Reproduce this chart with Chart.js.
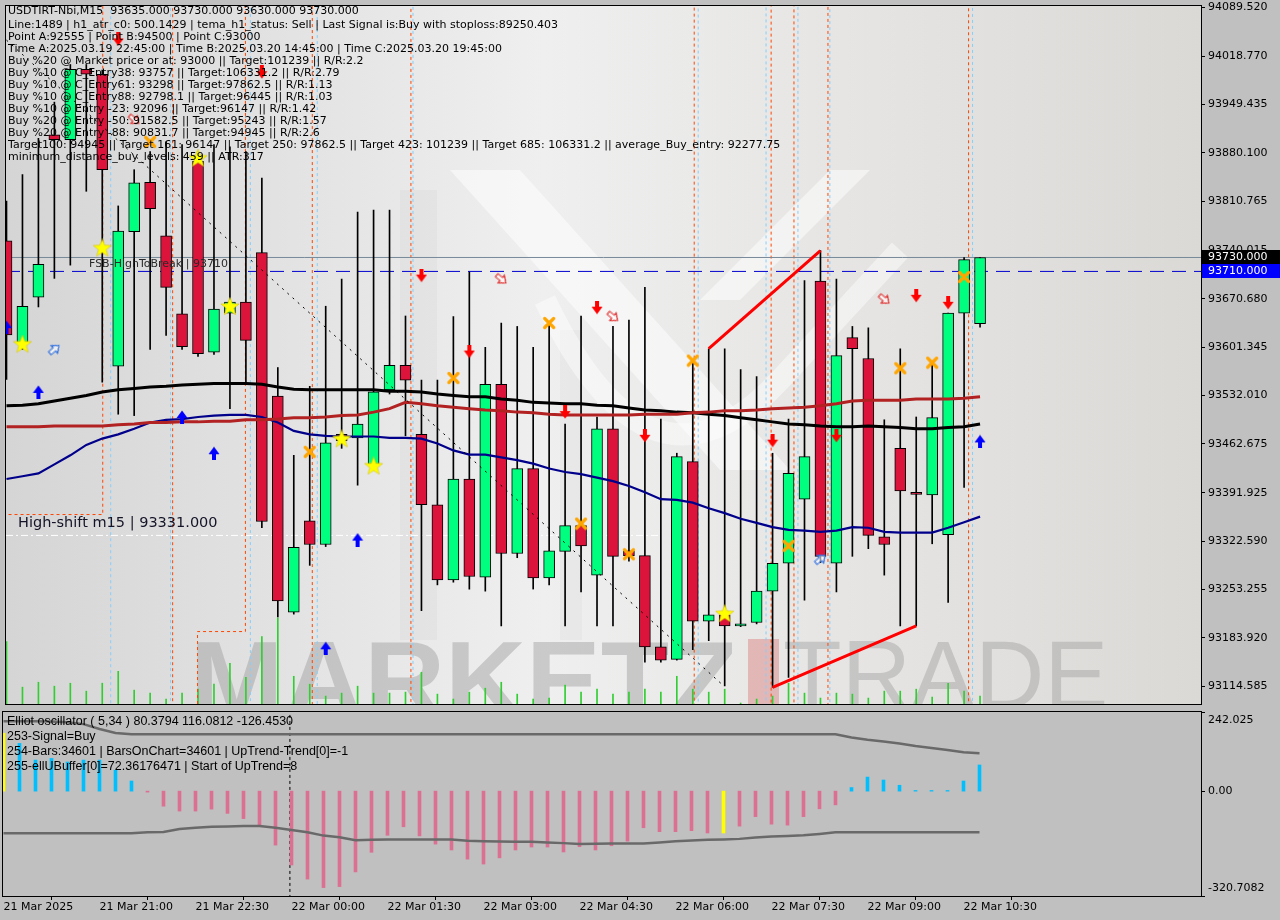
<!DOCTYPE html>
<html>
<head>
<meta charset="utf-8">
<title>USDTIRT-Nbi,M15</title>
<script src="https://cdn.jsdelivr.net/npm/chart.js@4.4.1/dist/chart.umd.min.js"></script>
<style>
  html, body { margin: 0; padding: 0; background: #c0c0c0; }
  #wrap { position: relative; width: 1280px; height: 920px; overflow: hidden; }
  canvas { position: absolute; left: 0; }
  #mainChart { top: 0; }
  #oscChart { top: 710px; }
</style>
</head>
<body>
<div id="wrap">
  <canvas id="mainChart" width="1280" height="710"></canvas>
  <canvas id="oscChart" width="1280" height="210"></canvas>
</div>
<script>
// M15 candles, 21 Mar 19:30 .. 22 Mar 10:45
const opens  = [93754,93608,93673,93906,93899,94000,93993,93574,93767,93838, 93761,93649,93868,93594,93650,93666,93737,93531,93221,93352, 93318,93476,93471,93433,93540,93575,93476,93375,93267,93412, 93271,93548,93305,93427,93270,93308,93345,93274,93484,93309, 93302,93171,93153,93437,93208,93217,93201,93206,93251,93291, 93383,93696,93291,93615,93585,93329,93456,93393,93389,93332, 93650,93635];
const highs  = [93811,93849,93901,93953,94007,94007,93999,93804,93856,93882, 93896,93892,93882,93892,93889,93882,93844,93572,93446,93545, 93660,93699,93795,93798,93798,93646,93554,93554,93645,93709, 93601,93636,93631,93601,93636,93491,93646,93501,93631,93640, 93687,93498,93449,93579,93599,93599,93569,93559,93449,93498, 93697,93740,93699,93631,93629,93497,93599,93501,93579,93650, 93730,93730];
const lows   = [93555,93598,93659,93700,93719,93825,93551,93505,93503,93598, 93618,93598,93588,93591,93513,93551,93342,93214,93218,93288, 93315,93456,93403,93427,93534,93474,93223,93260,93264,93254, 93251,93201,93299,93254,93260,93201,93250,93201,93201,93294, 93149,93149,93152,93167,93180,93115,93200,93204,93113,93127, 93238,93292,93250,93301,93312,93274,93201,93201,93319,93235, 93400,93630];
const closes = [93619,93660,93720,93899,94000,93993,93856,93768,93837,93800, 93687,93602,93592,93656,93666,93611,93351,93237,93314,93318, 93464,93467,93491,93537,93575,93554,93375,93267,93412,93272, 93548,93305,93427,93270,93309,93345,93316,93484,93301,93302, 93171,93152,93444,93208,93217,93201,93204,93251,93291,93420, 93444,93301,93589,93599,93331,93318,93395,93390,93500,93650, 93727,93730];
const tickVolume = [63,17,22,18,21,13,21,33,14,11, 5,11,15,20,41,27,68,87,28,20, 8,11,18,11,11,12,32,10,5,12, 16,22,10,5,6,19,12,15,10,12, 15,12,28,15,12,15,1,5,8,21, 11,6,11,10,6,13,13,15,7,21, 13,8];

const maBlack = [93517,93518,93520,93524,93528,93532,93537,93540,93542,93544, 93545,93547,93548,93549,93549,93549,93548,93544,93541,93540, 93540,93540,93540,93540,93538,93538,93537,93534,93532,93530, 93530,93527,93525,93522,93521,93520,93520,93518,93517,93514, 93511,93510,93508,93507,93505,93503,93500,93497,93494,93491, 93490,93488,93487,93487,93488,93487,93486,93484,93484,93486, 93487,93491];
const maBrown = [93487,93487,93487,93488,93488,93488,93488,93490,93491,93493, 93493,93494,93494,93495,93495,93497,93497,93498,93500,93500, 93501,93503,93504,93508,93513,93522,93520,93517,93515,93513, 93511,93510,93508,93507,93505,93504,93504,93504,93504,93504, 93505,93505,93505,93507,93508,93510,93510,93511,93513,93514, 93515,93517,93520,93524,93525,93525,93525,93527,93527,93527, 93528,93530];
const maNavy = [93412,93416,93420,93433,93446,93461,93470,93476,93484,93493, 93497,93498,93501,93503,93504,93504,93501,93493,93481,93476, 93474,93473,93473,93473,93471,93471,93470,93463,93453,93447, 93447,93443,93439,93434,93427,93422,93419,93414,93409,93402, 93393,93383,93382,93378,93370,93363,93355,93349,93343,93339, 93338,93336,93338,93343,93342,93336,93335,93335,93335,93342, 93350,93358];

// Elliot oscillator panel
const oscValues = [177,146,95,100,89,95,95,64,31,-3, -46,-61,-61,-55,-68,-84,-107,-165,-226,-269, -295,-292,-247,-187,-135,-109,-137,-162,-180,-208, -223,-204,-180,-171,-171,-186,-170,-180,-167,-153, -112,-124,-124,-121,-128,-128,-107,-78,-101,-104, -78,-54,-42,11,43,34,18,2,2,2, 31,80];
const oscUpper = [214,214,214,213,211,205,190,178,174,174, 174,174,174,174,174,174,174,174,174,174, 174,174,174,174,174,174,174,174,174,174, 174,174,174,174,174,174,174,174,174,174, 174,174,174,174,174,174,174,174,174,174, 174,174,174,164,157,152,146,138,132,126, 119,116];
const oscLower = [-129,-129,-129,-129,-129,-129,-129,-129,-129,-126, -125,-116,-112,-109,-108,-107,-107,-112,-119,-126, -136,-141,-150,-149,-148,-148,-148,-148,-148,-152, -153,-154,-155,-155,-157,-159,-162,-161,-160,-160, -160,-157,-153,-151,-149,-148,-146,-142,-139,-137, -135,-131,-126,-126,-126,-126,-126,-126,-126,-126, -126,-126];
const oscYellowIdx = [0, 45];
const oscTicks = ['242.025', '0.00', '-320.7082'];
const daySeparatorIdx = 17.9;

const priceTicks = ['94089.520','94018.770','93949.435','93880.100','93810.765','93740.015','93670.680','93601.345','93532.010','93462.675','93391.925','93322.590','93253.255','93183.920','93114.585'];
const timeTickIdx = [0, 6, 12, 18, 24, 30, 36, 42, 48, 54, 60];
const timeLabels = ['21 Mar 2025','21 Mar 21:00','21 Mar 22:30','22 Mar 00:00','22 Mar 01:30','22 Mar 03:00','22 Mar 04:30','22 Mar 06:00','22 Mar 07:30','22 Mar 09:00','22 Mar 10:30'];

// signal markers
const starIdx = [1, 6, 12, 14, 21, 23, 45];
const starPrice = [93605, 93743, 93872, 93659, 93469, 93430, 93218];
const crossIdx = [9, 19, 28, 34, 36, 39, 43, 49, 56, 58, 60];
const crossPrice = [93896, 93451, 93557, 93636, 93348, 93304, 93582, 93316, 93571, 93579, 93702];
const downIdx = [7, 16, 26, 29, 35, 37, 40, 48, 52, 57, 59];
const downPrice = [94043, 93996, 93704, 93595, 93508, 93658, 93474, 93467, 93474, 93675, 93665];
const upIdx = [0, 2, 11, 13, 20, 22, 61];
const upPrice = [93630, 93537, 93501, 93449, 93169, 93325, 93466];
const hollowRedIdx = [8, 31, 38, 55];
const hollowRedPrice = [93928, 93699, 93645, 93670];
const hollowBlueIdx = [3, 51];
const hollowBluePrice = [93598, 93297];

// stepped channel lines (values outside the axis run off the chart)
const orangeStepX = [-1, 6.03, 10.41, 11.97, 14.97, 19.16, 25.34, 43.09, 47.91, 49.34, 51.47, 60.28, 62];
const orangeStepY = [93361, 94300, 92900, 93193, 94300, 92900, 94300, 92900, 94300, 92900, 94300, 92900, 92900];
const blueStepX = [-1, 6.53, 10.28, 15.28, 19.47, 25.47, 43.34, 47.59, 49.59, 51.59, 60.53, 62];
const blueStepY = [94300, 92900, 94300, 92900, 94300, 92900, 94300, 92900, 94300, 92900, 94300, 94300];

const bidPrice = 93730;
const fsbPrice = 93710;
const highShiftPrice = 93331;
const highShiftEndIdx = 41;
const dotLineX = [0, 44.94], dotLineY = [94042, 93115];
const redLine1X = [44, 51], redLine1Y = [93599, 93740];
const redLine2X = [48, 57], redLine2Y = [93113, 93201];

const headerLines = [
  'USDTIRT-Nbi,M15  93635.000 93730.000 93630.000 93730.000',
  'Line:1489 | h1_atr_c0: 500.1429 | tema_h1_status: Sell | Last Signal is:Buy with stoploss:89250.403',
  'Point A:92555 | Point B:94500 | Point C:93000',
  'Time A:2025.03.19 22:45:00 | Time B:2025.03.20 14:45:00 | Time C:2025.03.20 19:45:00',
  'Buy %20 @ Market price or at: 93000 || Target:101239 || R/R:2.2',
  'Buy %10 @ C_Entry38: 93757 || Target:106331.2 || R/R:2.79',
  'Buy %10 @ C_Entry61: 93298 || Target:97862.5 || R/R:1.13',
  'Buy %10 @ C_Entry88: 92798.1 || Target:96445 || R/R:1.03',
  'Buy %10 @ Entry -23: 92096 || Target:96147 || R/R:1.42',
  'Buy %20 @ Entry -50: 91582.5 || Target:95243 || R/R:1.57',
  'Buy %20 @ Entry -88: 90831.7 || Target:94945 || R/R:2.6',
  'Target100: 94945 || Target 161: 96147 || Target 250: 97862.5 || Target 423: 101239 || Target 685: 106331.2 || average_Buy_entry: 92277.75',
  'minimum_distance_buy_levels: 459 || ATR:317'
];
const oscText = [
  'Elliot oscillator ( 5,34 ) 80.3794 116.0812 -126.4530',
  '253-Signal=Buy',
  '254-Bars:34601 | BarsOnChart=34601 | UpTrend-Trend[0]=-1',
  '255-ellUBuffer[0]=72.36176471 | Start of UpTrend=8'
];

// ---------------------------------------------------------------
const X_MIN = -0.03125;
const X_MAX = X_MIN + 1198 / 16;
const pts = (xs, ys) => xs.map((x, i) => ({ x: x, y: ys[i] }));
const series = arr => arr.map((v, i) => ({ x: i, y: v }));

function makeArrow(color, up) {
  const c = document.createElement('canvas');
  c.width = 12; c.height = 14;
  const g = c.getContext('2d');
  if (up) { g.translate(0, 14); g.scale(1, -1); }
  g.fillStyle = color;
  g.beginPath();
  g.moveTo(4, 0); g.lineTo(8, 0); g.lineTo(8, 6); g.lineTo(11.5, 6);
  g.lineTo(6, 13.5); g.lineTo(0.5, 6); g.lineTo(4, 6);
  g.closePath(); g.fill();
  return c;
}
// outlined arrow pointing right; rotated by the dataset
function makeHollowArrow(color) {
  const c = document.createElement('canvas');
  c.width = 14; c.height = 12;
  const g = c.getContext('2d');
  g.strokeStyle = color; g.lineWidth = 1.2;
  g.fillStyle = 'rgba(255,255,255,0.6)';
  g.beginPath();
  g.moveTo(1, 4); g.lineTo(7, 4); g.lineTo(7, 1); g.lineTo(13, 6);
  g.lineTo(7, 11); g.lineTo(7, 8); g.lineTo(1, 8);
  g.closePath(); g.fill(); g.stroke();
  return c;
}
function makeStar() {
  const c = document.createElement('canvas');
  c.width = 20; c.height = 20;
  const g = c.getContext('2d');
  g.beginPath();
  for (let k = 0; k < 10; k++) {
    const r = k % 2 ? 4 : 9.5;
    const a = -Math.PI / 2 + k * Math.PI / 5;
    g.lineTo(10 + r * Math.cos(a), 10 + r * Math.sin(a));
  }
  g.closePath();
  g.fillStyle = '#FFFF00'; g.fill();
  g.strokeStyle = 'rgba(210,190,0,0.7)'; g.lineWidth = 0.8; g.stroke();
  return c;
}
function makeCross() {
  const c = document.createElement('canvas');
  c.width = 14; c.height = 14;
  const g = c.getContext('2d');
  g.strokeStyle = '#FFA500'; g.lineWidth = 3.2; g.lineCap = 'round';
  g.beginPath(); g.moveTo(2.5, 2.5); g.lineTo(11.5, 11.5); g.moveTo(11.5, 2.5); g.lineTo(2.5, 11.5); g.stroke();
  return c;
}

function poly(ctx, p) {
  ctx.beginPath();
  p.forEach((q, i) => i ? ctx.lineTo(q[0], q[1]) : ctx.moveTo(q[0], q[1]));
  ctx.closePath(); ctx.fill();
}

const mainDeco = {
  id: 'mainDeco',
  beforeDatasetsDraw(chart) {
    const { ctx, chartArea: a } = chart;
    ctx.save();
    const g = ctx.createLinearGradient(a.left, 0, a.right, 0);
    g.addColorStop(0, '#d5d5d5');
    g.addColorStop(0.45, '#efefef');
    g.addColorStop(1, '#dbd9d6');
    ctx.fillStyle = g;
    ctx.fillRect(a.left, a.top, a.right - a.left, a.bottom - a.top);
    ctx.beginPath(); ctx.rect(a.left, a.top, a.right - a.left, a.bottom - a.top); ctx.clip();
    // watermark logo
    ctx.fillStyle = 'rgba(0,0,0,0.022)';
    poly(ctx, [[400, 190], [437, 190], [437, 640], [400, 640]]);
    poly(ctx, [[560, 330], [582, 330], [582, 640], [560, 640]]);
    ctx.fillStyle = 'rgba(255,255,255,0.5)';
    poly(ctx, [[450, 170], [520, 170], [790, 470], [720, 470]]);
    poly(ctx, [[700, 300], [740, 300], [870, 170], [830, 170]]);
    ctx.strokeStyle = 'rgba(255,255,255,0.45)';
    ctx.lineWidth = 22;
    ctx.beginPath(); ctx.moveTo(545, 300); ctx.quadraticCurveTo(650, 520, 780, 380); ctx.lineTo(900, 250); ctx.stroke();
    // watermark text
    ctx.fillStyle = 'rgba(150,150,150,0.42)';
    ctx.font = 'bold 112px "Liberation Sans"';
    ctx.textBaseline = 'alphabetic';
    ctx.fillText('MARKETZ', 190, 719);
    ctx.fillStyle = 'rgba(215,110,110,0.4)';
    ctx.fillRect(748, 639, 31, 72);
    ctx.fillStyle = 'rgba(160,160,160,0.45)';
    ctx.font = '96px "Liberation Sans"';
    ctx.fillText('TRADE', 783, 708);
    ctx.restore();
  },
  afterDraw(chart) {
    const { ctx, chartArea: a } = chart;
    const ys = chart.scales.y;
    ctx.save();
    ctx.strokeStyle = '#000'; ctx.lineWidth = 1;
    ctx.strokeRect(a.left - 0.5, a.top - 0.5, a.right - a.left + 1, a.bottom - a.top + 1);
    ctx.textBaseline = 'middle';
    ctx.fillStyle = '#000';
    ctx.font = '11px "DejaVu Sans"';
    headerLines.forEach((t, k) => ctx.fillText(t, 8, k === 0 ? 11 : 25 + 12 * (k - 1)));
    ctx.fillStyle = '#2a2a2a';
    ctx.fillText('FSB-HighToBreak | ' + fsbPrice, 89, ys.getPixelForValue(fsbPrice) - 7);
    ctx.fillStyle = '#141428';
    ctx.font = '14.5px "DejaVu Sans"';
    ctx.fillText('High-shift m15 | ' + highShiftPrice.toFixed(3), 18, ys.getPixelForValue(highShiftPrice) - 12);
    // price boxes
    ctx.font = '11px "DejaVu Sans"';
    [[bidPrice, '#000000'], [fsbPrice, '#0000FF']].forEach(([v, bg]) => {
      const y = Math.round(ys.getPixelForValue(v));
      ctx.fillStyle = bg;
      ctx.fillRect(a.right + 1, y - 7, 79, 14);
      ctx.fillStyle = '#fff';
      ctx.fillText(v.toFixed(3), a.right + 7, y);
    });
    ctx.restore();
  }
};

const oscDeco = {
  id: 'oscDeco',
  afterDraw(chart) {
    const { ctx, chartArea: a } = chart;
    const ys = chart.scales.y;
    ctx.save();
    ctx.strokeStyle = '#000'; ctx.lineWidth = 1;
    ctx.strokeRect(a.left - 0.5, a.top - 0.5, a.right - a.left + 1, a.bottom - a.top + 1);
    ctx.fillStyle = '#000';
    ctx.textBaseline = 'middle';
    ctx.font = '12.5px "Liberation Sans"';
    oscText.forEach((t, k) => ctx.fillText(t, 7, 12 + 15 * k));
    ctx.font = '11px "DejaVu Sans"';
    const offs = [8, 0, -8];
    oscTicks.forEach((t, k) => {
      const y = Math.round(ys.getPixelForValue(parseFloat(t)));
      ctx.beginPath(); ctx.moveTo(a.right, y + 0.5); ctx.lineTo(a.right + 4, y + 0.5); ctx.stroke();
      ctx.fillText(t, a.right + 7, y + offs[k]);
    });
    ctx.restore();
  }
};

const common = {
  responsive: false,
  animation: false,
  events: [],
  plugins: { legend: { display: false }, tooltip: { enabled: false } }
};

new Chart(document.getElementById('mainChart').getContext('2d'), {
  type: 'bar',
  data: {
    datasets: [
      { type: 'bar', data: series(tickVolume), yAxisID: 'yv', backgroundColor: '#32CD32', barThickness: 1, grouped: false, order: 9 },
      { type: 'line', data: pts(orangeStepX, orangeStepY), borderColor: '#FF4500', borderWidth: 1, borderDash: [3, 3], stepped: true, pointRadius: 0, order: 8 },
      { type: 'line', data: pts(blueStepX, blueStepY), borderColor: '#87CEFA', borderWidth: 1, borderDash: [3, 3], stepped: true, pointRadius: 0, order: 8 },
      { type: 'line', data: pts([X_MIN, X_MAX], [bidPrice, bidPrice]), borderColor: '#778899', borderWidth: 1, pointRadius: 0, order: 7 },
      { type: 'line', data: pts([X_MIN, X_MAX], [fsbPrice, fsbPrice]), borderColor: '#0000CD', borderWidth: 1, borderDash: [14, 8], pointRadius: 0, order: 7 },
      { type: 'line', data: pts([X_MIN, highShiftEndIdx], [highShiftPrice, highShiftPrice]), borderColor: '#ffffff', borderWidth: 1, borderDash: [7, 3, 2, 3], pointRadius: 0, order: 7 },
      { type: 'bar', data: opens.map((o, i) => ({ x: i, y: [lows[i], highs[i]] })), backgroundColor: '#000', barThickness: 1, grouped: false, order: 6 },
      { type: 'bar', data: opens.map((o, i) => ({ x: i, y: [o, closes[i]] })),
        backgroundColor: opens.map((o, i) => closes[i] >= o ? '#00FF7F' : '#DC143C'),
        borderColor: '#000', borderWidth: 1, borderSkipped: false, barThickness: 11, grouped: false, order: 5 },
      { type: 'line', data: series(maBrown), borderColor: '#B22222', borderWidth: 3, pointRadius: 0, order: 4 },
      { type: 'line', data: series(maBlack), borderColor: '#000000', borderWidth: 3, pointRadius: 0, order: 4 },
      { type: 'line', data: series(maNavy), borderColor: '#00008B', borderWidth: 2.2, pointRadius: 0, order: 4 },
      { type: 'line', data: pts(dotLineX, dotLineY), borderColor: '#000', borderWidth: 1, borderDash: [2, 5], pointRadius: 0, order: 3 },
      { type: 'line', data: pts(redLine1X, redLine1Y), borderColor: '#FF0000', borderWidth: 3, pointRadius: 0, order: 2 },
      { type: 'line', data: pts(redLine2X, redLine2Y), borderColor: '#FF0000', borderWidth: 3, pointRadius: 0, order: 2 },
      { type: 'scatter', data: pts(crossIdx, crossPrice), pointStyle: makeCross(), pointRadius: 5, order: 1 },
      { type: 'scatter', data: pts(starIdx, starPrice), pointStyle: makeStar(), pointRadius: 5, order: 1 },
      { type: 'scatter', data: pts(downIdx, downPrice), pointStyle: makeArrow('#FF0000', false), pointRadius: 5, order: 1 },
      { type: 'scatter', data: pts(upIdx, upPrice), pointStyle: makeArrow('#0000FF', true), pointRadius: 5, order: 1 },
      { type: 'scatter', data: pts(hollowRedIdx, hollowRedPrice), pointStyle: makeHollowArrow('#E03030'), pointRotation: 40, pointRadius: 5, order: 1 },
      { type: 'scatter', data: pts(hollowBlueIdx, hollowBluePrice), pointStyle: makeHollowArrow('#3070E0'), pointRotation: -40, pointRadius: 5, order: 1 }
    ]
  },
  options: Object.assign({}, common, {
    layout: { padding: { left: 3, top: 3, right: 0, bottom: 2 } },
    scales: {
      x: { type: 'linear', min: X_MIN, max: X_MAX, offset: false, display: false },
      y: {
        type: 'linear', position: 'right', min: 93089, max: 94091, beginAtZero: false,
        afterBuildTicks: s => { s.ticks = priceTicks.map(t => ({ value: parseFloat(t) })); },
        afterFit: s => { s.width = 79; s.paddingTop = 0; s.paddingBottom = 0; },
        ticks: { callback: (v, i) => priceTicks[i], autoSkip: false, padding: 3, color: '#000', font: { family: 'DejaVu Sans', size: 11 } },
        grid: { drawOnChartArea: false, drawTicks: true, tickLength: 4, color: '#000' },
        border: { display: true, color: '#000' }
      },
      yv: { type: 'linear', min: 0, max: 705, display: false }
    }
  }),
  plugins: [mainDeco]
});

new Chart(document.getElementById('oscChart').getContext('2d'), {
  type: 'bar',
  data: {
    datasets: [
      { type: 'line', data: pts([daySeparatorIdx, daySeparatorIdx], [-400, 300]), borderColor: '#000', borderWidth: 1, borderDash: [3, 3], pointRadius: 0, order: 4 },
      { type: 'bar', data: series(oscValues),
        backgroundColor: oscValues.map((v, i) => oscYellowIdx.includes(i) ? '#FFFF00' : (v >= 0 ? '#00BFFF' : '#DB7093')),
        barThickness: 3, grouped: false, order: 3 },
      { type: 'line', data: series(oscUpper), borderColor: '#696969', borderWidth: 2.5, pointRadius: 0, order: 2 },
      { type: 'line', data: series(oscLower), borderColor: '#696969', borderWidth: 2.5, pointRadius: 0, order: 2 }
    ]
  },
  options: Object.assign({}, common, {
    layout: { padding: { left: 3, top: 2, right: 0, bottom: 0 } },
    scales: {
      x: {
        type: 'linear', min: X_MIN, max: X_MAX, offset: false, position: 'bottom',
        afterBuildTicks: s => { s.ticks = timeTickIdx.map(v => ({ value: v })); },
        afterFit: s => { s.height = 24; s.paddingLeft = 0; s.paddingRight = 0; },
        ticks: { callback: (v, i) => timeLabels[i], align: 'start', maxRotation: 0, autoSkip: false, padding: 1, color: '#000', font: { family: 'DejaVu Sans', size: 11 } },
        grid: { drawOnChartArea: false, drawTicks: true, tickLength: 4, color: '#000' },
        border: { display: false }
      },
      y: {
        type: 'linear', position: 'right', min: -320.7082, max: 242.025, beginAtZero: false,
        afterFit: s => { s.width = 79; s.paddingTop = 0; s.paddingBottom = 0; },
        ticks: { display: false }, grid: { display: false }, border: { display: false }
      }
    }
  }),
  plugins: [oscDeco]
});
</script>
</body>
</html>
